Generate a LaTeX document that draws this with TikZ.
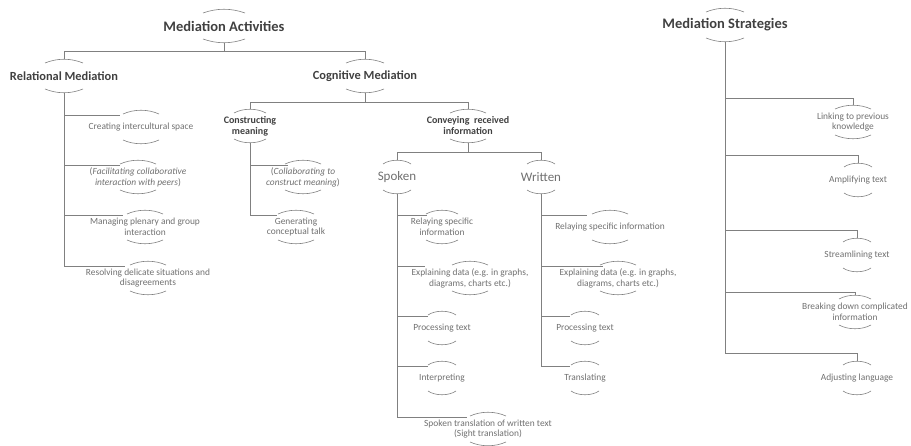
\documentclass[tikz,border=0pt]{standalone}
\usepackage{fontspec}
\setmainfont{Carlito}
\definecolor{inkgray}{RGB}{64, 64, 64}
\definecolor{txtgray}{RGB}{112, 112, 112}
\definecolor{linegray}{RGB}{128, 128, 128}

\begin{document}
\begin{tikzpicture}[
    x=1pt, y=-1pt,
    % node styles
    head/.style = {
      inner sep=0pt,
      align=center,
      font=\bfseries\fontsize{14.5}{16}\selectfont,
      text=inkgray
    },
    sub/.style = {
      inner sep=0pt,
      align=center,
      font=\bfseries\fontsize{12.4}{14}\selectfont,
      text=inkgray
    },
    grp/.style = {
      inner sep=0pt,
      align=center,
      font=\bfseries\fontsize{10}{11}\selectfont,
      text=inkgray
    },
    mode/.style = {
      inner sep=0pt,
      align=center,
      font=\fontsize{13}{15}\selectfont,
      text=txtgray
    },
    leaf/.style = {
      inner sep=0pt,
      align=center,
      font=\fontsize{9.4}{10.8}\selectfont,
      text=txtgray
    },
    % line styles
    conn/.style = {line width=0.8pt, draw=linegray},
    ring/.style = {line width=0.6pt, draw=linegray}
  ]
  \useasboundingbox (0,0) rectangle (911,446);

  % --- Nodes
  \node[head] (act) at (224,26) {Mediation Activities};
  \node[head] (strat) at (725,25) {Mediation Strategies};

  \node[sub] (rel) at (64,76) {Relational Mediation};
  \node[sub] (cog) at (365,76) {Cognitive Mediation};

  \node[leaf] (cis) at (141,127) {Creating intercultural space};
  \node[leaf] (facil) at (138,177) {(\textit{Facilitating collaborative}\\\textit{interaction with peers})};
  \node[leaf] (manag) at (145,227) {Managing plenary and group\\interaction};
  \node[leaf] (resol) at (148,278) {Resolving delicate situations and\\disagreements};

  \node[grp] (constr) at (250,126) {Constructing\\meaning};
  \node[grp] (conv) at (468,126) {Conveying~ received\\information};

  \node[leaf] (collab) at (303,177) {(\textit{Collaborating to}\\\textit{construct meaning})};
  \node[leaf] (gen) at (296,227) {Generating\\conceptual talk};

  \node[mode] (spoken) at (397,177) {Spoken};
  \node[mode] (written) at (541,177) {Written};

  \node[leaf] (relay1) at (442,227) {Relaying specific\\information};
  \node[leaf] (expl1) at (470,278) {Explaining data (e.g. in graphs,\\diagrams, charts etc.)};
  \node[leaf] (proc1) at (442,328) {Processing text};
  \node[leaf] (interp1) at (442,378) {Interpreting};
  \node[leaf] (sight) at (488,429) {Spoken translation of written text\\(Sight translation)};

  \node[leaf] (relay2) at (610,227) {Relaying specific information};
  \node[leaf] (expl2) at (618,278) {Explaining data (e.g. in graphs,\\diagrams, charts etc.)};
  \node[leaf] (proc2) at (585,328) {Processing text};
  \node[leaf] (transl) at (585,378) {Translating};

  \node[leaf] (link) at (853,122) {Linking to previous\\knowledge};
  \node[leaf] (ampl) at (858,180) {Amplifying text};
  \node[leaf] (stream) at (857,255) {Streamlining text};
  \node[leaf] (brk) at (855,312) {Breaking down complicated\\information};
  \node[leaf] (adjust) at (857,378) {Adjusting language};

  % --- Rings (arc above and below each label)
  \foreach \n/\w in {act/21,strat/19,rel/19,cog/19,cis/18,facil/18,manag/18,resol/18,
                     constr/16,conv/18,collab/18,gen/18,spoken/14,written/14,
                     relay1/16,expl1/18,proc1/14,interp1/14,sight/18,relay2/18,
                     expl2/18,proc2/14,transl/14,link/18,ampl/14,stream/14,brk/16,
                     adjust/14} {
    \draw[ring] ([shift={(-\w,-13)}]\n.center) .. controls ([shift={(-7,-18)}]\n.center) and ([shift={(7,-18)}]\n.center) .. ([shift={(\w,-13)}]\n.center);
    \draw[ring] ([shift={(-\w,13)}]\n.center) .. controls ([shift={(-7,18)}]\n.center) and ([shift={(7,18)}]\n.center) .. ([shift={(\w,13)}]\n.center);
  }

  % --- Connectors
  \foreach \c in {rel,cog}
    \draw[conn] ([shift={(0,17)}]act.center) -- ++(0,8) -| ([shift={(0,-17)}]\c.center);
  \foreach \c in {constr,conv}
    \draw[conn] ([shift={(0,17)}]cog.center) -- ++(0,9) -| ([shift={(0,-17)}]\c.center);
  \foreach \c in {spoken,written}
    \draw[conn] ([shift={(0,17)}]conv.center) -- ++(0,9) -| ([shift={(0,-17)}]\c.center);

  \foreach \p/\c/\dx in {rel/cis/-21, rel/facil/-18, rel/manag/-22, rel/resol/-23,
                         constr/collab/-15, constr/gen/-19,
                         spoken/relay1/-15, spoken/expl1/-45, spoken/proc1/-14,
                         spoken/interp1/-14, spoken/sight/-21,
                         written/relay2/-23, written/expl2/-15, written/proc2/-15,
                         written/transl/-15}
    \draw[conn] ([shift={(0,17)}]\p.center) |- ([shift={(\dx,-12)}]\c.center);

  \foreach \c/\dy in {link/-24, ampl/-25, stream/-25, brk/-20, adjust/-25}
    \draw[conn] ([shift={(0,17)}]strat.center) |- ([shift={(0,\dy)}]\c.center)
      -- ([shift={(0,-17)}]\c.center);

\end{tikzpicture}
\end{document}
